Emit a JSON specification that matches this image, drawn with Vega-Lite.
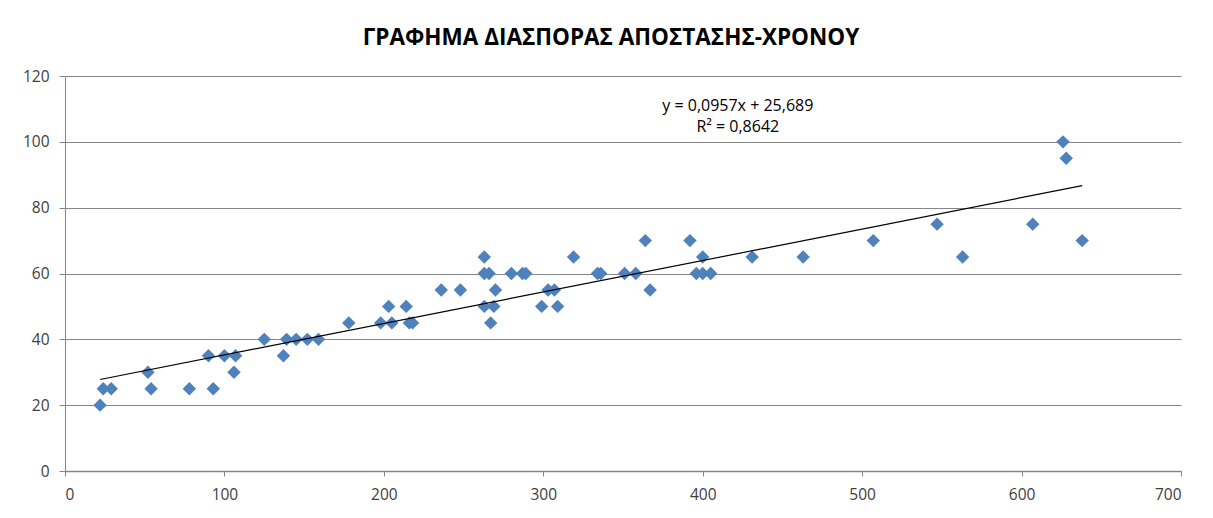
{
  "$schema": "https://vega.github.io/schema/vega-lite/v6.json",
  "width": 1116,
  "height": 395,
  "autosize": {"type": "none"},
  "padding": {"left": 65, "top": 76, "right": 32, "bottom": 47},
  "background": "white",
  "title": {
    "text": "ΓΡΑΦΗΜΑ ΔΙΑΣΠΟΡΑΣ ΑΠΟΣΤΑΣΗΣ-ΧΡΟΝΟΥ",
    "font": "Open Sans",
    "fontSize": 22.5,
    "fontWeight": "bold",
    "color": "#000000",
    "anchor": "middle",
    "dx": -12,
    "offset": 20
  },
  "config": {
    "view": {"stroke": null},
    "axis": {
      "domainColor": "#868686",
      "tickColor": "#868686",
      "gridColor": "#868686"
    }
  },
  "datasets": {
    "pts": [
      {"d": 22, "t": 20}, {"d": 24, "t": 25}, {"d": 29, "t": 25}, {"d": 52, "t": 30},
      {"d": 54, "t": 25}, {"d": 78, "t": 25}, {"d": 93, "t": 25}, {"d": 90, "t": 35},
      {"d": 100, "t": 35}, {"d": 106, "t": 30}, {"d": 107, "t": 35}, {"d": 125, "t": 40},
      {"d": 137, "t": 35}, {"d": 139, "t": 40}, {"d": 145, "t": 40}, {"d": 152, "t": 40},
      {"d": 159, "t": 40}, {"d": 178, "t": 45}, {"d": 198, "t": 45}, {"d": 203, "t": 50},
      {"d": 205, "t": 45}, {"d": 214, "t": 50}, {"d": 216, "t": 45}, {"d": 218, "t": 45},
      {"d": 236, "t": 55}, {"d": 248, "t": 55}, {"d": 263, "t": 65}, {"d": 263, "t": 60},
      {"d": 266, "t": 60}, {"d": 263, "t": 50}, {"d": 267, "t": 45}, {"d": 269, "t": 50},
      {"d": 270, "t": 55}, {"d": 280, "t": 60}, {"d": 287, "t": 60}, {"d": 289, "t": 60},
      {"d": 299, "t": 50}, {"d": 303, "t": 55}, {"d": 307, "t": 55}, {"d": 309, "t": 50},
      {"d": 319, "t": 65}, {"d": 334, "t": 60}, {"d": 336, "t": 60}, {"d": 351, "t": 60},
      {"d": 358, "t": 60}, {"d": 364, "t": 70}, {"d": 367, "t": 55}, {"d": 392, "t": 70},
      {"d": 396, "t": 60}, {"d": 400, "t": 65}, {"d": 400, "t": 60}, {"d": 405, "t": 60},
      {"d": 431, "t": 65}, {"d": 463, "t": 65}, {"d": 507, "t": 70}, {"d": 547, "t": 75},
      {"d": 563, "t": 65}, {"d": 607, "t": 75}, {"d": 626, "t": 100}, {"d": 628, "t": 95},
      {"d": 638, "t": 70}
    ],
    "trend": [
      {"d": 22, "t": 27.8},
      {"d": 638, "t": 86.7}
    ],
    "notes": [
      {"d": 422, "t": 110.9, "label": "y = 0,0957x + 25,689"},
      {"d": 422, "t": 104.4, "label": "R² = 0,8642"}
    ]
  },
  "layer": [
    {
      "data": {"name": "pts"},
      "mark": {"type": "point", "shape": "diamond", "filled": true, "color": "#4F81BD", "size": 180, "opacity": 1},
      "encoding": {
        "x": {
          "field": "d", "type": "quantitative",
          "scale": {"domain": [0, 700], "nice": false, "zero": true},
          "axis": {"values": [0, 100, 200, 300, 400, 500, 600, 700], "grid": false, "tickSize": 5, "labelPadding": 11, "title": null, "domainWidth": 1.5, "labelFont": "Open Sans", "labelFontSize": 15.5, "labelColor": "#404040"}
        },
        "y": {
          "field": "t", "type": "quantitative",
          "scale": {"domain": [0, 120], "nice": false},
          "axis": {"values": [0, 20, 40, 60, 80, 100, 120], "grid": true, "tickSize": 6, "labelPadding": 10, "title": null, "labelFont": "Open Sans", "labelFontSize": 15.5, "labelColor": "#404040"}
        }
      }
    },
    {
      "data": {"name": "trend"},
      "mark": {"type": "line", "color": "#000000", "strokeWidth": 1.2},
      "encoding": {
        "x": {"field": "d", "type": "quantitative"},
        "y": {"field": "t", "type": "quantitative"}
      }
    },
    {
      "data": {"name": "notes"},
      "mark": {"type": "text", "font": "Open Sans", "fontSize": 16, "color": "#000000", "align": "center", "baseline": "middle"},
      "encoding": {
        "x": {"field": "d", "type": "quantitative"},
        "y": {"field": "t", "type": "quantitative"},
        "text": {"field": "label"}
      }
    }
  ]
}
